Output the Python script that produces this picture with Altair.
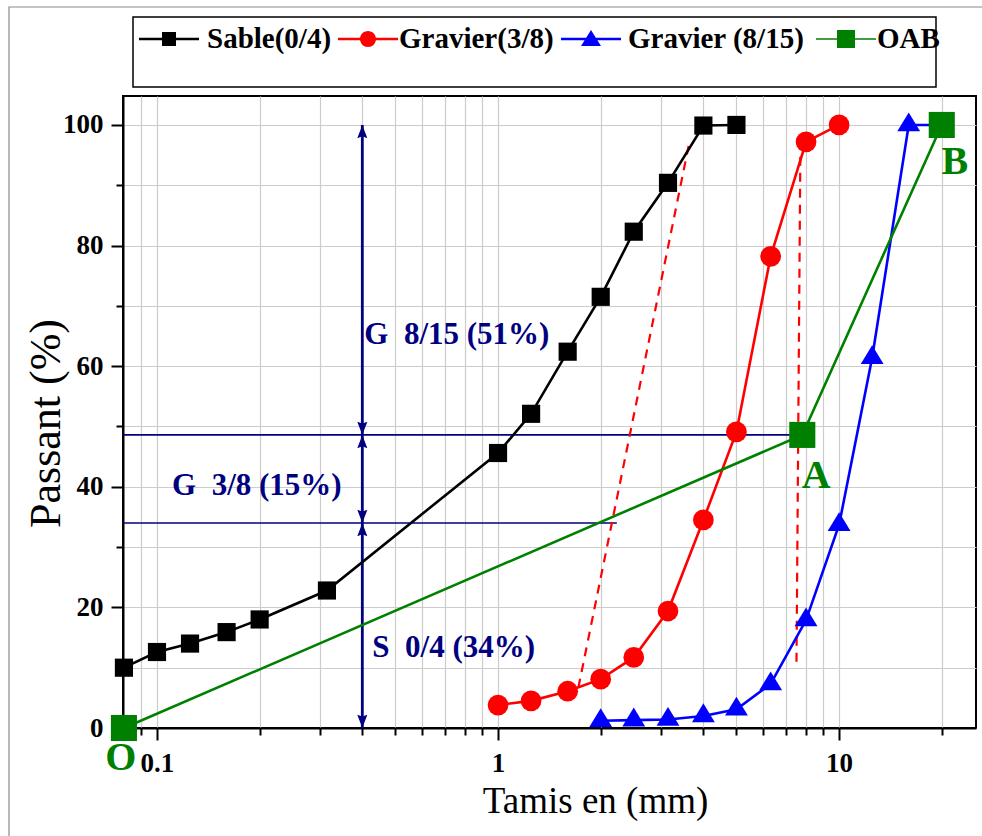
import altair as alt
import pandas as pd

# ---- grading data: sieve opening (mm) and cumulative passing (%) ----
sable_sieve = [0.08, 0.1, 0.125, 0.16, 0.2, 0.315, 1, 1.25, 1.6, 2, 2.5, 3.15, 4, 5]
sable_pass = [10.0, 12.6, 14.0, 15.9, 18.0, 22.8, 45.6, 52.1, 62.4, 71.5, 82.3, 90.4, 99.9, 100]

g38_sieve = [1, 1.25, 1.6, 2, 2.5, 3.15, 4, 5, 6.3, 8, 10]
g38_pass = [3.8, 4.5, 6.1, 8.1, 11.7, 19.4, 34.5, 49.1, 78.2, 97.2, 100]

g815_sieve = [2, 2.5, 3.15, 4, 5, 6.3, 8, 10, 12.5, 16, 20]
g815_pass = [1.2, 1.3, 1.4, 2.0, 3.1, 7.3, 17.9, 33.7, 61.4, 100, 100]

# reference grading O-A-B
oab_sieve = [0.08, 7.8, 20]
oab_pass = [0, 48.6, 100]
oab_labels = ["O", "A", "B"]

# dashed construction lines between neighbouring curves
dash1_sieve = [1.72, 3.62]
dash1_pass = [6.7, 96.5]
dash2_sieve = [7.5, 7.7]
dash2_pass = [11.0, 96.0]

# split levels read on the vertical scale
split_x = 0.4
level_sand = 34.0
level_g38 = 48.6
level_end_x = [2.23, 7.8]
split_texts = ["S\u00a0 0/4 (34%)", "G\u00a0 3/8 (15%)", "G\u00a0 8/15 (51%)"]
split_text_x = [0.4, 0.1107, 0.4]
split_text_y = [13.3, 40.1, 65.2]
split_text_dx = [10, 0, 2]

series_names = ["Sable(0/4)", "Gravier(3/8)", "Gravier (8/15)", "OAB"]
series_colors = ["#000000", "#ff0000", "#0000ff", "#008000"]

x_domain = [0.0795, 25.2]
y_domain = [0, 104.8]
x_ticks = [0.09, 0.1, 0.2, 0.3, 0.4, 0.5, 0.6, 0.7, 0.8, 0.9,
           1, 2, 3, 4, 5, 6, 7, 8, 9, 10, 20]
x_labeled = [0.1, 1, 10]
y_ticks = [0, 10, 20, 30, 40, 50, 60, 70, 80, 90, 100]

SERIF = "Liberation Serif"
NAVY = "#000080"
GREEN = "#008000"

xs = alt.Scale(type="log", domain=x_domain, nice=False)
ys = alt.Scale(domain=y_domain, nice=False, zero=False)

x_major = " || ".join(f"datum.value == {v}" for v in x_labeled)
x_label_expr = "".join(f"datum.value == {v} ? '{v}' : " for v in x_labeled) + "''"

x_axis = alt.Axis(
    values=x_ticks, labelExpr=x_label_expr, title="Tamis en (mm)",
    tickSize={"condition": {"test": x_major, "value": 12}, "value": 7},
    labelPadding=10, labelOverlap=False, labelFlush=False,
    labelFontSize=27, labelFontWeight="bold",
    titleFontSize=37, titleFontWeight="normal", titleX=472, titleY=84,
    titleBaseline="alphabetic", titleAlign="center",
)
y_axis = alt.Axis(
    values=y_ticks, labelExpr="datum.value % 20 == 0 ? datum.label : ''",
    title="Passant (%)",
    tickSize={"condition": {"test": "datum.value % 20 == 0", "value": 12}, "value": 7},
    labelPadding=8, labelOverlap=False, labelFlush=False,
    labelFontSize=27, labelFontWeight="bold",
    titleFontSize=44, titleFontWeight="normal", titleX=-64, titleY=327,
    titleBaseline="alphabetic", titleAlign="center", titleAngle=-90,
)


def enc_xy(xfield="x", yfield="y"):
    return dict(
        x=alt.X(f"{xfield}:Q", scale=xs, axis=x_axis),
        y=alt.Y(f"{yfield}:Q", scale=ys, axis=y_axis),
    )


one = pd.DataFrame({"k": [0]})
layers = []

# outer figure frame and legend frame
layers.append(alt.Chart(one).mark_rect(fillOpacity=0, stroke="#8a8a8a", strokeWidth=1.2).encode(
    x=alt.value(-114), x2=alt.value(880), y=alt.value(-89), y2=alt.value(760)))
layers.append(alt.Chart(one).mark_rect(fillOpacity=0, stroke="#000000", strokeWidth=1.5).encode(
    x=alt.value(10), x2=alt.value(813), y=alt.value(-79), y2=alt.value(-9)))

# horizontal split levels
lev = pd.DataFrame({"x": [x_domain[0]] * 2, "x2": level_end_x, "y": [level_sand, level_g38]})
layers.append(alt.Chart(lev).mark_rule(color=NAVY, strokeWidth=1.6).encode(
    **enc_xy(), x2="x2:Q"))

# vertical double arrows
arr = pd.DataFrame({"x": [split_x], "y": [0], "y2": [100]})
layers.append(alt.Chart(arr).mark_rule(color=NAVY, strokeWidth=2.8).encode(
    **enc_xy(), y2="y2:Q"))

head_up = "M0,0L-0.38,1L0,0.86L0.38,1Z"
head_down = "M0,0L-0.38,-1L0,-0.86L0.38,-1Z"
heads = pd.DataFrame({
    "x": [split_x] * 6,
    "y": [100, level_g38, level_sand, 0, level_g38, level_sand],
    "dir": ["up", "up", "up", "down", "down", "down"],
})
layers.append(alt.Chart(heads).mark_point(filled=True, size=700, opacity=1, color=NAVY).encode(
    **enc_xy(),
    shape=alt.Shape("dir:N", scale=alt.Scale(domain=["up", "down"], range=[head_up, head_down]), legend=None)))

# dashed construction lines
dash = pd.DataFrame({
    "x": dash1_sieve + dash2_sieve,
    "y": dash1_pass + dash2_pass,
    "g": ["d1", "d1", "d2", "d2"],
})
layers.append(alt.Chart(dash).mark_line(color="#ff0000", strokeWidth=2.2, strokeDash=[9, 7]).encode(
    **enc_xy(), detail="g:N"))

# grading curves
curves = [
    (sable_sieve, sable_pass, "square", 330),
    (g38_sieve, g38_pass, "circle", 430),
    (g815_sieve, g815_pass, "M0,-0.66L0.6,0.33L-0.6,0.33Z", 1450),
    (oab_sieve, oab_pass, "square", 680),
]
for (sx, sy, shp, sz), col in zip(curves, series_colors):
    df = pd.DataFrame({"x": sx, "y": sy})
    layers.append(alt.Chart(df).mark_line(color=col, strokeWidth=2.6).encode(**enc_xy()))
for (sx, sy, shp, sz), col in zip(curves, series_colors):
    df = pd.DataFrame({"x": sx, "y": sy})
    layers.append(alt.Chart(df).mark_point(filled=True, opacity=1, color=col, shape=shp,
                                           size=sz, strokeWidth=0).encode(**enc_xy()))

# split annotations
for tx, ty, tt, tdx in zip(split_text_x, split_text_y, split_texts, split_text_dx):
    d = pd.DataFrame({"x": [tx], "y": [ty], "t": [tt]})
    layers.append(alt.Chart(d).mark_text(
        font=SERIF, fontSize=31, fontWeight="bold", color=NAVY, align="left", baseline="middle",
        dx=tdx).encode(**enc_xy(), text="t:N"))

# O, A, B point letters
letter_offsets = [(-3, 30), (14, 41), (13, 37)]
for lx, ly, lt, (ddx, ddy) in zip(oab_sieve, oab_pass, oab_labels, letter_offsets):
    d = pd.DataFrame({"x": [lx], "y": [ly], "t": [lt]})
    layers.append(alt.Chart(d).mark_text(
        font=SERIF, fontSize=40, fontWeight="bold", color=GREEN, align="center", baseline="middle",
        dx=ddx, dy=ddy).encode(**enc_xy(), text="t:N"))

# legend: one single-entry legend per series, each with a line+marker glyph,
# fed by clipped off-scale points so nothing shows inside the plot
legend_paths = [
    "M-1,-0.042H1V0.042H-1Z M-0.233,-0.233H0.233V0.233H-0.233Z",
    "M-1,-0.042H1V0.042H-1Z M0.267,0A0.267,0.267,0,1,1,-0.267,0A0.267,0.267,0,1,1,0.267,0Z",
    "M-1,-0.042H1V0.042H-1Z M0,-0.3L0.333,0.233L-0.333,0.233Z",
    "M-1,-0.025H1V0.025H-1Z M-0.3,-0.3H0.3V0.3H-0.3Z",
]
legend_x = [16, 215, 438, 693]
legend_gap = [8, 1, 7, 1]
for name, col, path, lx, gap in zip(series_names, series_colors, legend_paths, legend_x, legend_gap):
    d = pd.DataFrame({"series": [name], "x": [1000.0], "y": [50.0]})
    layers.append(alt.Chart(d).mark_point(filled=True, opacity=1, size=3600, clip=True, strokeWidth=0).encode(
        **enc_xy(),
        color=alt.Color("series:N", scale=alt.Scale(domain=[name], range=[col]),
                        legend=alt.Legend(
                            title=None, orient="none", legendX=lx, legendY=-87,
                            labelFont=SERIF, labelFontSize=29, labelFontWeight="bold",
                            labelColor="#000000", labelOffset=gap, padding=0,
                            symbolType=path, symbolSize=3600, symbolStrokeWidth=0,
                            symbolFillColor=col, symbolOpacity=1, labelLimit=400)),
    ))

chart = alt.layer(*layers).resolve_scale(color="independent").properties(
    width=853, height=632,
    background="#ffffff",
    autosize=alt.AutoSizeParams(type="none"),
    padding={"left": 123, "top": 96, "right": 6, "bottom": 108},
).configure_view(
    stroke="#000000", strokeWidth=2,
).configure_axis(
    labelFont=SERIF, titleFont=SERIF, labelColor="#000000", titleColor="#000000",
    domainColor="#000000", domainWidth=2, tickColor="#000000", tickWidth=2,
    gridColor="#cccccc", gridWidth=1.2, grid=True,
)

chart.save("out.html", embed_options={"renderer": "svg", "actions": False})
